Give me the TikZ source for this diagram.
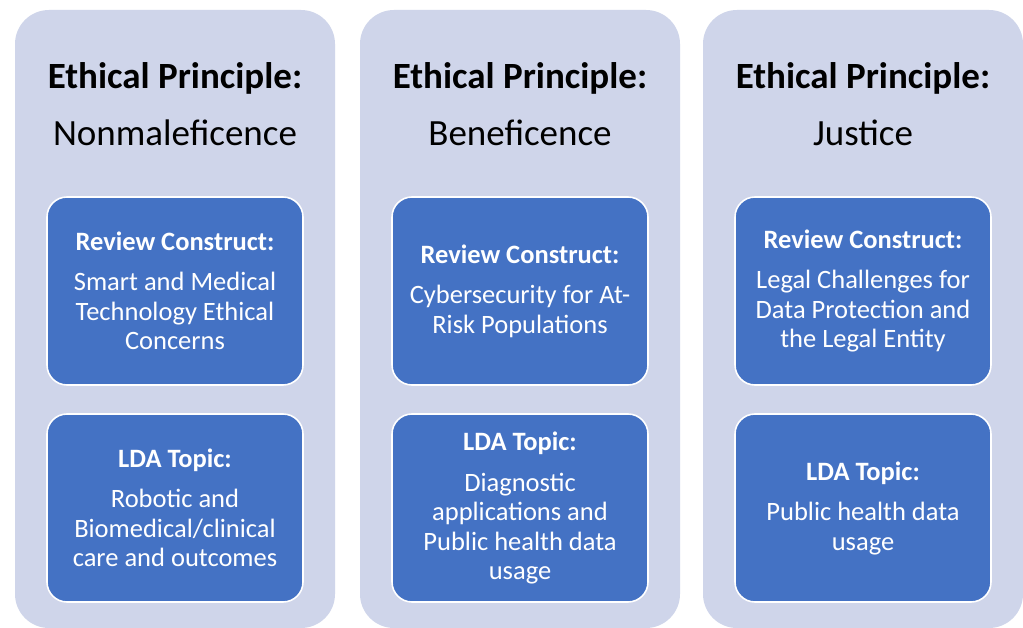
\documentclass[tikz,border=0pt]{standalone}
\usepackage{fontspec}
\setmainfont{Carlito}
\definecolor{colfill}{HTML}{CFD5EA}
\definecolor{boxfill}{HTML}{4472C4}
\begin{document}
\begin{tikzpicture}[x=1pt,y=-1pt,
  column/.style={fill=colfill,rounded corners=34pt,minimum width=320pt,minimum height=618pt,inner sep=0pt},
  heading/.style={align=center,font=\fontsize{37}{45}\selectfont,text=black},
  card/.style={fill=boxfill,draw=white,line width=1.6pt,rounded corners=20pt,minimum width=256pt,minimum height=188pt,
    align=center,text=white,font=\fontsize{26.5}{29.5}\selectfont,inner sep=0pt}]
\useasboundingbox (0,0) rectangle (1023,628);
\fill[white] (0,0) rectangle (1023,628);
% the three columns
\node (colA) at (175,319) [column] {};
\node (colB) at (520,319) [column] {};
\node (colC) at (863,319) [column] {};
% principles
\node (headA) at (175,104) [heading] {\textbf{Ethical Principle:}\\[12pt]Nonmaleficence};
\node (headB) at (520,104) [heading] {\textbf{Ethical Principle:}\\[12pt]Beneficence};
\node (headC) at (863,104) [heading] {\textbf{Ethical Principle:}\\[12pt]Justice};
% review constructs
\node (revA) at (175,291) [card] {\textbf{Review Construct:}\\[11pt]Smart and Medical\\Technology Ethical\\Concerns};
\node (revB) at (520,291) [card] {\textbf{Review Construct:}\\[11pt]Cybersecurity for At-\\Risk Populations};
\node (revC) at (863,291) [card] {\textbf{Review Construct:}\\[11pt]Legal Challenges for\\Data Protection and\\the Legal Entity};
% lda topics
\node (ldaA) at (175,508) [card] {\textbf{LDA Topic:}\\[11pt]Robotic and\\Biomedical/clinical\\care and outcomes};
\node (ldaB) at (520,508) [card] {\textbf{LDA Topic:}\\[11pt]Diagnostic\\applications and\\Public health data\\usage};
\node (ldaC) at (863,508) [card] {\textbf{LDA Topic:}\\[11pt]Public health data\\usage};
\end{tikzpicture}
\end{document}
